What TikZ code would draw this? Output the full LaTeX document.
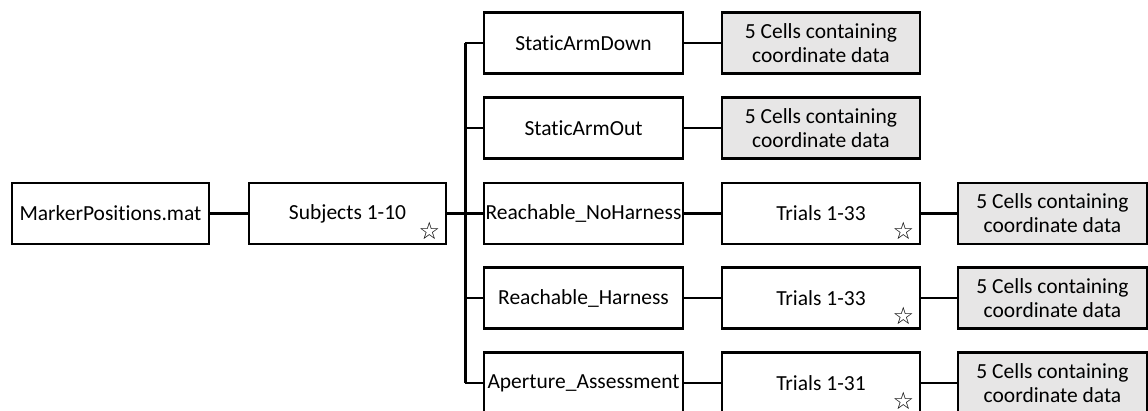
\documentclass[tikz,border=0pt]{standalone}
\usepackage{fontspec}
\setmainfont{Carlito}[Ligatures=NoCommon]
\newfontfamily\starfont{DejaVu Sans}
\usetikzlibrary{positioning}

\definecolor{cellgray}{RGB}{231,230,230}

\begin{document}
\begin{tikzpicture}[x=1pt,y=-1pt,
	box/.style={draw, line width=2.6pt, minimum width=197pt, minimum height=61pt,
		inner sep=0pt, align=center, font=\fontsize{21.5}{24}\selectfont},
	cellbox/.style={box, fill=cellgray},
	link/.style={line width=2.2pt},
	star/.style={font=\starfont\fontsize{24}{24}\selectfont, inner sep=0pt}]
	\useasboundingbox (0,0) rectangle (1148,410);
	
	\def\bx{465} % x of the bus
	
	% left part
	\node[box] (mp) at (110.5,213.5) {MarkerPositions.mat};
	\node[box] (subj) at (347.5,213.5) {Subjects 1-10};
	\node[star, anchor=south east] at ([shift={(-7pt,5pt)}]subj.south east) {☆};
	
	% second column
	\node[box, minimum width=199pt] (sad) at (583.5,43) {StaticArmDown};
	\node[box, minimum width=199pt] (sao) at (583.5,128) {StaticArmOut};
	\node[box, minimum width=199pt] (rnh) at (583.5,213.5) {Reachable\_NoHarness};
	\node[box, minimum width=199pt] (rh) at (583.5,298) {Reachable\_Harness};
	\node[box, minimum width=199pt] (aa) at (583.5,383) {Aperture\_Assessment};
	
	% third column
	\node[cellbox, minimum width=198pt] (c1) at (821,43) {5 Cells containing\\coordinate data};
	\node[cellbox, minimum width=198pt] (c2) at (821,128) {5 Cells containing\\coordinate data};
	\node[box, minimum width=198pt] (t1) at (821,213.5) {Trials 1-33};
	\node[box, minimum width=198pt] (t2) at (821,298) {Trials 1-33};
	\node[box, minimum width=198pt] (t3) at (821,383) {Trials 1-31};
	\foreach \t in {t1,t2,t3}
		\node[star, anchor=south east] at ([shift={(-7pt,5pt)}]\t.south east) {☆};
	
	% fourth column
	\node[cellbox, minimum width=189pt] (c3) at (1052.5,213.5) {5 Cells containing\\coordinate data};
	\node[cellbox, minimum width=189pt] (c4) at (1052.5,298) {5 Cells containing\\coordinate data};
	\node[cellbox, minimum width=189pt] (c5) at (1052.5,383) {5 Cells containing\\coordinate data};
	
	% connectors
	\coordinate (bus) at (\bx,213.5);
	\draw[link] (mp) -- (subj);
	\draw[line width=3.8pt] (subj) -- (bus);
	\draw[line width=3pt] (\bx,43) -- (\bx,383);
	\foreach \n in {sad,sao,rnh,rh,aa}
		\draw[link] (bus |- \n) -- (\n);
	\draw[link] (sad) -- (c1);
	\draw[link] (sao) -- (c2);
	\draw[link] (rnh) -- (t1);
	\draw[link] (rh) -- (t2);
	\draw[link] (aa) -- (t3);
	\draw[link] (t1) -- (c3);
	\draw[link] (t2) -- (c4);
	\draw[link] (t3) -- (c5);
\end{tikzpicture}
\end{document}
